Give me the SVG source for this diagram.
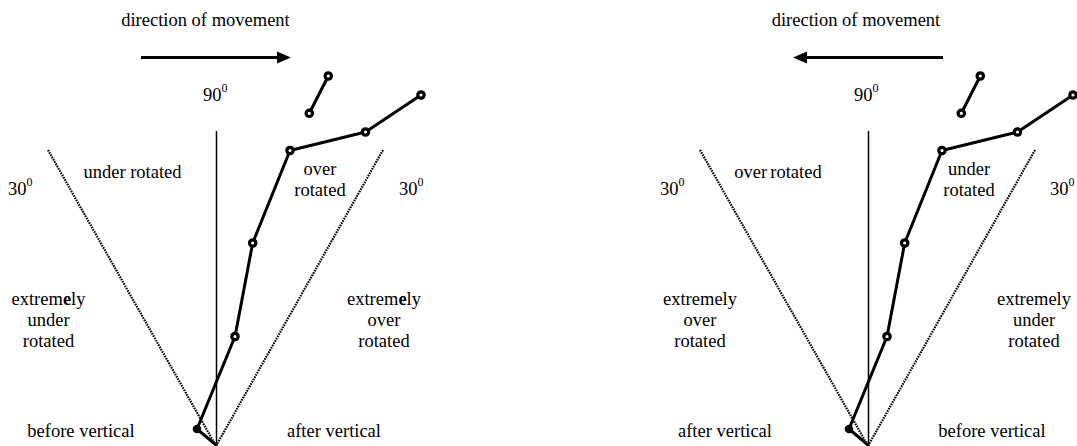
<svg xmlns="http://www.w3.org/2000/svg" width="1077" height="446" viewBox="0 0 1077 446">
  <style>
    text { font-family: "Liberation Serif", "Times New Roman", serif; font-size: 18.5px; fill: #000; }
    .mid { text-anchor: middle; }
    .sup { font-size: 12px; }
    .axis { stroke: #000; stroke-width: 1.5; fill: none; }
    .limit { stroke: #000; stroke-width: 2.2; stroke-dasharray: 1.6 1; fill: none; }
    .body { stroke: #000; stroke-width: 3; fill: none; stroke-linejoin: round; stroke-linecap: round; }
    .joint { fill: #fff; stroke: #000; stroke-width: 3.2; }
    .move { stroke: #000; stroke-width: 3.2; fill: none; }
  </style>
  <defs>
    <!-- stick figure shared by both panels; its feet sit at the pivot (216,446) -->
    <g id="figure">
      <polyline class="body" points="216,445 197,429 235,336.5 252.7,243 290,150.5 365.5,132 421,95"/>
      <line class="body" x1="309.3" y1="113.3" x2="328.3" y2="76"/>
      <circle cx="197" cy="429" r="4.3" fill="#000"/>
      <circle class="joint" cx="235" cy="336.5" r="3.2"/>
      <circle class="joint" cx="252.7" cy="243" r="3.2"/>
      <circle class="joint" cx="290" cy="150.5" r="3.2"/>
      <circle class="joint" cx="365.5" cy="132" r="3.2"/>
      <circle class="joint" cx="421" cy="95" r="3.2"/>
      <circle class="joint" cx="309.3" cy="113.3" r="3.2"/>
      <circle class="joint" cx="328.3" cy="76" r="3.2"/>
    </g>
    <!-- vertical reference and the two 30 degree limits -->
    <g id="frame">
      <line class="axis" x1="216.5" y1="131" x2="216.5" y2="446"/>
      <line class="limit" x1="48" y1="150" x2="216" y2="446"/>
      <line class="limit" x1="383" y1="150" x2="216" y2="446"/>
    </g>
  </defs>

  <!-- left panel: moving to the right -->
  <g id="panel-left">
    <g id="connectors-left">
      <use href="#frame"/>
      <line class="move" x1="141" y1="57.5" x2="279" y2="57.5"/>
      <polygon points="277,51.5 291,57.5 277,63.5" fill="#000"/>
    </g>
    <g id="figure-left"><use href="#figure"/></g>
    <g id="labels-left">
      <text class="mid" x="205.5" y="26">direction of movement</text>
      <text x="203" y="101">90<tspan class="sup" dy="-9">0</tspan></text>
      <text x="8" y="195">30<tspan class="sup" dy="-9">0</tspan></text>
      <text x="399" y="195">30<tspan class="sup" dy="-9">0</tspan></text>
      <text class="mid" x="132.5" y="178">under rotated</text>
      <text class="mid" x="320" y="175">over</text>
      <text class="mid" x="320" y="196">rotated</text>
      <text class="mid" x="48.5" y="305">extrem<tspan font-weight="bold">e</tspan>ly</text>
      <text class="mid" x="48.5" y="326">under</text>
      <text class="mid" x="48.5" y="347">rotated</text>
      <text class="mid" x="384" y="305">extrem<tspan font-weight="bold">e</tspan>ly</text>
      <text class="mid" x="384" y="326">over</text>
      <text class="mid" x="384" y="347">rotated</text>
      <text class="mid" x="81" y="437">before vertical</text>
      <text class="mid" x="334" y="437">after vertical</text>
    </g>
  </g>

  <!-- right panel: moving to the left -->
  <g id="panel-right">
    <g id="connectors-right">
      <use href="#frame" x="652"/>
      <line class="move" x1="943" y1="57.5" x2="805" y2="57.5"/>
      <polygon points="807,51.5 793,57.5 807,63.5" fill="#000"/>
    </g>
    <g id="figure-right"><use href="#figure" x="652"/></g>
    <g id="labels-right">
      <text class="mid" x="856" y="26">direction of movement</text>
      <text x="854" y="101">90<tspan class="sup" dy="-9">0</tspan></text>
      <text x="660" y="195">30<tspan class="sup" dy="-9">0</tspan></text>
      <text x="1050" y="195">30<tspan class="sup" dy="-9">0</tspan></text>
      <text class="mid" x="778" y="178">over<tspan dx="-1.5"> </tspan>rotated</text>
      <text class="mid" x="969" y="175">under</text>
      <text class="mid" x="969" y="196">rotated</text>
      <text class="mid" x="700" y="305">extremely</text>
      <text class="mid" x="700" y="326">over</text>
      <text class="mid" x="700" y="347">rotated</text>
      <text class="mid" x="1034" y="305">extremely</text>
      <text class="mid" x="1034" y="326">under</text>
      <text class="mid" x="1034" y="347">rotated</text>
      <text class="mid" x="725" y="437">after vertical</text>
      <text class="mid" x="992" y="437">before vertical</text>
    </g>
  </g>
</svg>
